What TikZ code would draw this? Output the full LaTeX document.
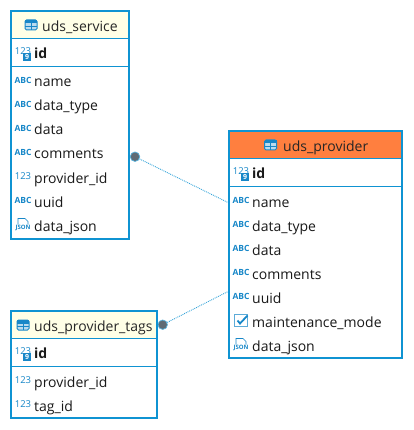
\documentclass[tikz,border=0pt]{standalone}
\usepackage{fontspec}
\setmainfont{Open Sans}
\definecolor{dbblue}{HTML}{0F93D2}
\definecolor{iconblue}{HTML}{1787C8}
\definecolor{headyellow}{HTML}{FFFFE6}
\definecolor{headorange}{HTML}{FF7F3F}
\definecolor{dotgray}{HTML}{5F6B75}
\tikzset{
  tablebox/.style={draw=dbblue, line width=2.4pt, fill=white, inner sep=0pt},
  rowtext/.style={anchor=base west, inner sep=0pt, font=\fontsize{14}{16}\selectfont, text=black!90},
  headtext/.style={anchor=base west, inner sep=0pt, font=\fontsize{14}{16}\selectfont, text=black!85},
  icontext/.style={inner sep=0pt, text=iconblue},
  enddot/.style={circle, fill=dotgray, draw=dbblue!70, line width=0.7pt, minimum size=9.5pt, inner sep=0pt},
  reltext/.style={draw=dbblue!85, line width=0.9pt, densely dotted},
  pics/abc/.style={code={
    \node[icontext, font=\fontsize{8.5}{8.5}\selectfont\bfseries] at (0,0) {ABC};
  }},
  pics/num/.style={code={
    \node[icontext, font=\fontsize{9.5}{10}\selectfont] at (0,0) {123};
  }},
  pics/json/.style={code={
    \draw[iconblue, line width=0.7pt] (-5,0) -- (-5,-6) -- (2,-6) -- (5,-3) -- (5,0);
    \node[icontext, font=\fontsize{6}{6}\selectfont\bfseries] at (0,3) {JSON};
  }},
  pics/check/.style={code={
    \draw[iconblue!70, line width=1pt] (-6.5,-6) rectangle (6,6);
    \draw[iconblue, line width=1.8pt] (-3.5,0) -- (-1,3) -- (6.5,-5);
  }},
  pics/key/.style={code={
    \node[icontext, font=\fontsize{9.5}{10}\selectfont] at (0,-2) {123};
    \fill[iconblue] (0,0) rectangle (8,8);
    \node[inner sep=0pt, text=white, font=\fontsize{7}{7}\selectfont\bfseries] at (4,4) {9};
  }},
  pics/tableicon/.style={code={
    \draw[iconblue, line width=1pt, rounded corners=1.5pt, fill=iconblue!30] (-6,-5) rectangle (6,5);
    \fill[iconblue] (-6,-5) rectangle (6,-1.5);
    \draw[iconblue, line width=0.8pt] (0,-1.5) -- (0,5) (-6,1.5) -- (6,1.5);
  }}
}
\begin{document}
\begin{tikzpicture}[x=1pt, y=-1pt]
  \useasboundingbox (0,0) rectangle (413,430);
  % relations
  \node[enddot] (servicedot) at (135,156.7) {};
  \node[enddot] (tagsdot) at (162.7,324.7) {};
  \coordinate (providername) at (229,203);
  \coordinate (provideruuid) at (229,291);
  \draw[reltext] (servicedot) -- (providername);
  \draw[reltext] (tagsdot) -- (provideruuid);
  % uds_service
  \node[tablebox, minimum width=118pt, minimum height=228pt] (service) at (70,125) {};
  \fill[headyellow] (12.2,12.2) rectangle (127.8,38);
  \draw[dbblue, line width=0.8pt] (11,38.5) -- (129,38.5);
  \draw[dbblue, line width=0.8pt] (11,66) -- (129,66);
  \pic at (31,25) {tableicon};
  \node[headtext] (servicehead) at (42,31.5) {uds\_service};
  \pic at (23,53) {key};
  \node[rowtext, font=\fontsize{14}{16}\selectfont\bfseries] (serviceid) at (34,58.5) {id};
  \foreach \y/\n/\t/\k in {81/name/name/abc, 105/type/data\_type/abc, 129/data/data/abc,
    153/comments/comments/abc, 177/provider/provider\_id/num, 201/uuid/uuid/abc, 225/json/data\_json/json}{
    \pic at (23,\y-0.5) {\k};
    \node[rowtext] (service\n) at (34,\y+6) {\t};
  }
  % uds_provider
  \node[tablebox, minimum width=173pt, minimum height=227pt] (provider) at (315.5,244.5) {};
  \fill[headorange] (230.2,132.2) rectangle (400.8,158);
  \draw[dbblue, line width=0.8pt] (229,158.5) -- (402,158.5);
  \draw[dbblue, line width=0.8pt] (229,186) -- (402,186);
  \pic at (270.5,145) {tableicon};
  \node[headtext] (providerhead) at (283,151.5) {uds\_provider};
  \pic at (241,173) {key};
  \node[rowtext, font=\fontsize{14}{16}\selectfont\bfseries] (providerid) at (252,178.5) {id};
  \foreach \y/\n/\t/\k in {201/name/name/abc, 225/type/data\_type/abc, 249/data/data/abc,
    273/comments/comments/abc, 297/uuid/uuid/abc, 321/mode/maintenance\_mode/check, 345/json/data\_json/json}{
    \pic at (241,\y-0.5) {\k};
    \node[rowtext] (provider\n) at (252,\y+6) {\t};
  }
  % uds_provider_tags
  \node[tablebox, minimum width=146pt, minimum height=107pt] (tags) at (84,364.5) {};
  \fill[headyellow] (12.2,312.2) rectangle (155.8,338);
  \draw[dbblue, line width=0.8pt] (11,338.5) -- (157,338.5);
  \draw[dbblue, line width=0.8pt] (11,366) -- (157,366);
  \pic at (23,325) {tableicon};
  \node[headtext] (tagshead) at (34,331.5) {uds\_provider\_tags};
  \pic at (23,353) {key};
  \node[rowtext, font=\fontsize{14}{16}\selectfont\bfseries] (tagsid) at (34,358.5) {id};
  \foreach \y/\n/\t/\k in {381/provider/provider\_id/num, 405/tag/tag\_id/num}{
    \pic at (23,\y-0.5) {\k};
    \node[rowtext] (tags\n) at (34,\y+6) {\t};
  }
\end{tikzpicture}
\end{document}
